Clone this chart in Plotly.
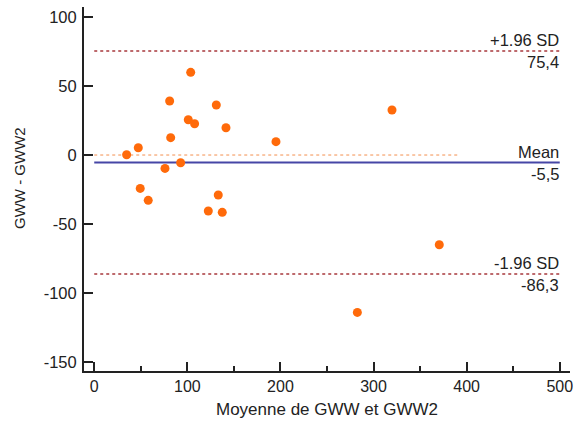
import plotly.graph_objects as go

# Data (Bland-Altman)
mean_vals = [103.6, 81.0, 131.1, 101.0, 107.8, 141.5, 82.1, 195.2, 47.3, 34.8,
             92.8, 76.0, 49.4, 133.2, 58.0, 122.5, 137.5, 319.8, 370.6, 282.6]
diff_vals = [60.0, 39.2, 36.3, 25.6, 22.7, 19.8, 12.6, 9.7, 5.3, 0.2,
             -5.6, -9.7, -24.2, -29.0, -32.9, -40.6, -41.6, 32.7, -65.1, -114.2]

bias = -5.5
upper_loa = 75.4
lower_loa = -86.3
line_x_end = 500
zero_x_end = 391

x_ticks = [0, 100, 200, 300, 400, 500]
y_ticks = [-150, -100, -50, 0, 50, 100]

FONT = "Liberation Sans, Arial, sans-serif"
TXT = "#222222"
FS = 16.5

fig = go.Figure()

# Zero line (orange dotted)
fig.add_trace(go.Scatter(x=[0, zero_x_end], y=[0, 0], mode="lines",
                         line=dict(color="#F39050", width=1, dash="dot"),
                         hoverinfo="skip", showlegend=False))
# LoA lines
for v in (upper_loa, lower_loa):
    fig.add_trace(go.Scatter(x=[0, line_x_end], y=[v, v], mode="lines",
                             line=dict(color="#A8383C", width=1.5, dash="dot"),
                             hoverinfo="skip", showlegend=False))
# Mean line
fig.add_trace(go.Scatter(x=[0, line_x_end], y=[bias, bias], mode="lines",
                         line=dict(color="#4646A6", width=2),
                         hoverinfo="skip", showlegend=False))

# Points
fig.add_trace(go.Scatter(x=mean_vals, y=diff_vals, mode="markers",
                         marker=dict(color="#FF6A0A", size=9),
                         showlegend=False))

labels = [(upper_loa, "+1.96 SD", "75,4"),
          (bias, "Mean", "-5,5"),
          (lower_loa, "-1.96 SD", "-86,3")]
for v, above, below in labels:
    fig.add_annotation(x=line_x_end, y=v, xref="x", yref="y", text=above,
                       showarrow=False, xanchor="right", yanchor="bottom",
                       yshift=0, xshift=1, font=dict(size=FS, color=TXT, family=FONT))
    fig.add_annotation(x=line_x_end, y=v, xref="x", yref="y", text=below,
                       showarrow=False, xanchor="right", yanchor="top",
                       yshift=0, xshift=1, font=dict(size=FS, color=TXT, family=FONT))

# Axis titles as annotations (fixed positions)
fig.add_annotation(x=0.5, y=-0.107, xref="paper", yref="paper",
                   text="Moyenne de GWW et GWW2", showarrow=False,
                   xanchor="center", yanchor="middle",
                   font=dict(size=17, color=TXT, family=FONT))
fig.add_annotation(x=-0.134, y=0.53, xref="paper", yref="paper",
                   text="GWW - GWW2", showarrow=False, textangle=-90,
                   xanchor="center", yanchor="middle",
                   font=dict(size=15, color=TXT, family=FONT))

fig.update_layout(
    width=577, height=425,
    margin=dict(l=84, r=7, t=7, b=54, autoexpand=False),
    paper_bgcolor="white", plot_bgcolor="white",
    font=dict(family=FONT, size=FS, color=TXT),
)
fig.update_xaxes(
    range=[-11, 511], tickvals=x_ticks, ticktext=[str(t) for t in x_ticks],
    showgrid=False, zeroline=False, showline=True, linecolor="#222222", linewidth=2,
    ticks="inside", ticklen=9, tickwidth=2, tickcolor="#222222",
    minor=dict(ticks="inside", ticklen=5, tickwidth=1.5, tickcolor="#222222", dtick=50, tick0=0),
    tickfont=dict(size=16), automargin=False,
)
fig.update_yaxes(
    range=[-156.7, 107.4], tickvals=y_ticks, ticktext=[str(t) for t in y_ticks],
    showgrid=False, zeroline=False, showline=True, linecolor="#222222", linewidth=2,
    ticks="inside", ticklen=9, tickwidth=2, tickcolor="#222222",
    tickfont=dict(size=FS), automargin=False, ticklabelstandoff=2,
)

# remove the default 8px page margin so the figure sits at the window's corner
fig.write_html("out.html",
               config={"displayModeBar": False},
               post_script="document.body.style.margin='0';document.body.style.overflow='hidden';")
